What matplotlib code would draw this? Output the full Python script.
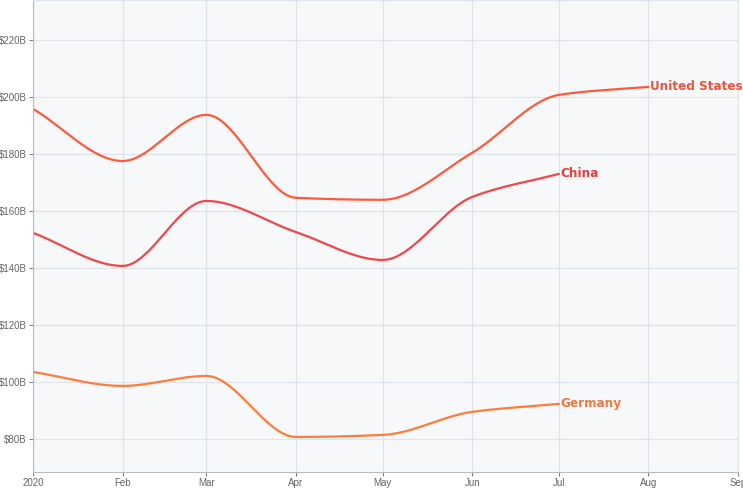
import numpy as np
import pandas as pd
import matplotlib.pyplot as plt
import matplotlib.dates as mdates
from matplotlib import font_manager

# monthly values, $B
months = pd.to_datetime(['2020-01-01', '2020-02-01', '2020-03-01', '2020-04-01',
                         '2020-05-01', '2020-06-01', '2020-07-01', '2020-08-01'])
us = [195.8, 177.5, 193.7, 164.6, 163.9, 180.4, 200.7, 203.5]
china = [152.3, 140.7, 163.5, 152.6, 142.8, 164.9, 173.0]
germany = [103.5, 98.6, 102.1, 80.7, 81.4, 89.5, 92.3]

tick_dates = pd.date_range('2020-01-01', '2020-09-01', freq='MS')
tick_labels = ['2020', 'Feb', 'Mar', 'Apr', 'May', 'Jun', 'Jul', 'Aug', 'Sep']


def monotone(x, y, n=40):
    # Fritsch-Carlson monotone cubic for a smooth line through the points
    x = np.asarray(x, float)
    y = np.asarray(y, float)
    h = np.diff(x)
    d = np.diff(y) / h
    m = np.zeros_like(y)
    m[0], m[-1] = d[0], d[-1]
    for i in range(1, len(y) - 1):
        if d[i - 1] * d[i] <= 0:
            m[i] = 0
        else:
            w1 = 2 * h[i] + h[i - 1]
            w2 = h[i] + 2 * h[i - 1]
            m[i] = (w1 + w2) / (w1 / d[i - 1] + w2 / d[i])
    xs, ys = [], []
    for i in range(len(h)):
        t = np.linspace(0, 1, n)
        h00 = 2 * t**3 - 3 * t**2 + 1
        h10 = t**3 - 2 * t**2 + t
        h01 = -2 * t**3 + 3 * t**2
        h11 = t**3 - t**2
        xs.append(x[i] + t * h[i])
        ys.append(h00 * y[i] + h10 * h[i] * m[i] + h01 * y[i + 1] + h11 * h[i] * m[i + 1])
    return np.concatenate(xs), np.concatenate(ys)


# condensed bold font for the end labels, if one is around
label_font = None
for f in font_manager.findSystemFonts():
    if 'DejaVuSansCondensed-Bold' in f:
        label_font = font_manager.FontProperties(fname=f, size=9.6)
if label_font is None:
    label_font = font_manager.FontProperties(family='DejaVu Sans', weight='bold', size=8.5)

plt.rcParams['font.family'] = ['Liberation Sans', 'DejaVu Sans']

fig = plt.figure(figsize=(7.43, 4.97), dpi=100)
ax = fig.add_axes([33 / 743, 25 / 497, 705 / 743, 472 / 497])
ax.set_facecolor('#f6f8fa')

series = [
    ('United States', us, '#ff5a3c', '#e9553f'),
    ('China', china, '#f2464a', '#e63c3c'),
    ('Germany', germany, '#ff7d3c', '#f0783c'),
]
for name, vals, lc, tc in series:
    xd = mdates.date2num(months[:len(vals)])
    xs, ys = monotone(xd, vals)
    ax.plot(xs, ys, color=lc, lw=1.6, solid_capstyle='round')
    ax.text(xd[-1] + 0.4, vals[-1], name, color=tc, fontproperties=label_font,
            va='center', ha='left')

ax.set_xlim(mdates.date2num(tick_dates[0]), mdates.date2num(tick_dates[-1]))
ax.set_ylim(68.4, 234)
ax.set_xticks(mdates.date2num(tick_dates))
ax.set_xticklabels(tick_labels)
ax.set_yticks(np.arange(80, 221, 20))
ax.set_yticklabels(['$%dB' % v for v in range(80, 221, 20)])
ax.grid(True, color='#dfe4ea', lw=0.9)
ax.set_axisbelow(True)
ax.tick_params(labelsize=7, colors='#666666', length=3, width=0.6, pad=1.5)
for s in ['top', 'right']:
    ax.spines[s].set_color('#dfe4ea')
for s in ['left', 'bottom']:
    ax.spines[s].set_color('#bbbbbb')
    ax.spines[s].set_linewidth(0.8)

fig.savefig('out.png', dpi=100)
